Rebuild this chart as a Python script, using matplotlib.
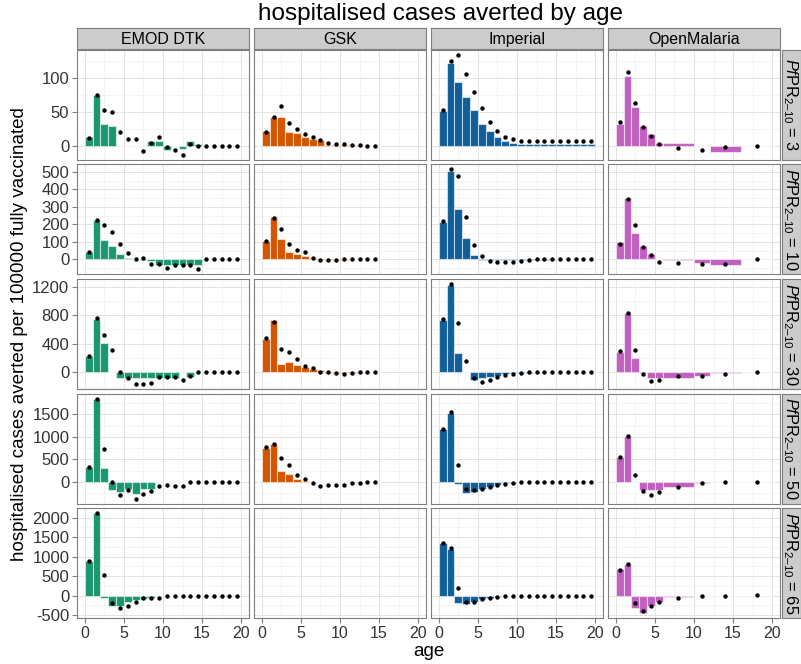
import numpy as np
import matplotlib
matplotlib.use("Agg")
import matplotlib.pyplot as plt
from matplotlib.ticker import FixedLocator

plt.rcParams['font.family'] = ['Liberation Sans', 'DejaVu Sans']
plt.rcParams['mathtext.fontset'] = 'custom'
plt.rcParams['mathtext.rm'] = 'Liberation Sans'
plt.rcParams['mathtext.it'] = 'Liberation Sans:italic'
plt.rcParams['axes.unicode_minus'] = False

# ---- data -------------------------------------------------------------
models = ["EMOD DTK", "GSK", "Imperial", "OpenMalaria"]
prevalence = [3, 10, 30, 50, 65]
colors = ["#1b9670", "#d45500", "#115e99", "#c260c2"]

# age-bin edges for the bars of each model
emod_edges = list(range(0, 16))
gsk_edges = list(range(0, 16))
imperial_edges = list(range(0, 21))
om_edges = [0, 1, 2, 3, 4, 5, 6, 10, 12, 16, 20]

# ages at which the point estimates are reported
emod_pt_age = [a + 0.5 for a in range(20)]
gsk_pt_age = [a + 0.5 for a in range(15)]
imperial_pt_age = [a + 0.5 for a in range(20)]
om_pt_age = [0.5, 1.5, 2.5, 3.5, 4.5, 5.5, 8, 11, 14, 18]

# bar heights (one list per PfPR level)
emod_bars = [
    [12, 75, 31, 29, 0, 0, 0, 0, 7, 7, -6, 0, -5, 6, 2],
    [42, 226, 113, 79, 30, 9, 4, -4, -10, -34, -34, -34, -34, -34, -34],
    [233, 753, 409, 0, -80, -80, -80, -80, -80, -80, -80, -80, 0, -65, 0],
    [329, 1850, 315, -183, -227, -154, -263, -154, -154, 0, 10, 0, 0, 0, 0],
    [892, 2117, -67, -275, -275, -167, -117, -83, -67, 0, 0, 0, 0, 0, 0],
]
emod_pts = [
    [11, 75, 52, 50, 19.5, 10, 10, -8, 4.4, 12.7, -2, -7, -14, 2.4, 0, 0, 0, 0, 0, 0],
    [41.5, 226, 198, 157, 90.6, 36, 0, 5.7, -28, -23, -51, -32, -32, -32, -57, 0, 0, 0, 0, 0],
    [223, 758, 526, 307, 5, -84, -163, -163, -153, -70, -70, -60, -102, -56, 9, 0, 0, 0, 0, 0],
    [329, 1850, 732, 7, -278, -183, -366, -263, -190, -80, -66, -80, -80, 0, 0, 0, 0, 0, 0, 0],
    [892, 2117, 533, -192, -317, -258, -167, -67, -67, -67, 0, 0, 0, 0, 0, 0, 0, 0, 0, 0],
]

gsk_bars = [
    [21.5, 42, 42, 20, 18, 12, 9, 8, 1, 1, 1, 0.5, 0.5, 0, 0],
    [107.5, 241.5, 119, 43, 32, 22.6, 7.5, -3, -3, -3, -2, 0, 0, 0, 0],
    [465, 726, 121, 140, 107, 74, 51, 28, -5, -5, -10, -10, -5, 0, 0],
    [746, 834, 249, 183, 66, 29, 0, -10, -10, -10, -10, -10, -10, -10, -5],
    None,
]
gsk_pts = [
    [20.5, 42.4, 59, 32.7, 24.4, 17, 12.2, 8.3, 3.4, 2.4, 2.4, 1, 0.5, 0, 0],
    [104, 236, 174, 90.6, 56.6, 41.5, 9.4, -5.7, -5.7, -5.7, 2, 0, 0, 0, 0],
    [479, 698, 326, 279, 186, 93, 65, 0, 0, -9, -19, -9, 0, 0, 0],
    [783, 834, 541, 366, 154, 73, -29, -80, -73, -58, -58, -29, -29, 0, 0],
    None,
]

imperial_bars = [
    [51, 121, 94, 72, 52, 31, 22, 12, 7, 3.4, 2, 2, 2, 2, 2, 2, 2, 2, 2, 2],
    [211, 506, 287, 123, 28, -5, -5, -5, -5, -5, -5, -3, -2, -1, -1, 0, 0, 0, 0, 0],
    [726, 1223, 270, 0, -102, -84, -65, -47, -28, -14, -7, -3, 0, 0, 0, 0, 0, 0, 0, 0],
    [1178, 1536, -40, -241, -219, -154, -110, -58, -25, -15, -8, -4, 0, 0, 0, 0, 0, 0, 0, 0],
    [1350, 1200, -192, -217, -167, -83, -50, -20, -10, -5, 0, 0, 0, 0, 0, 0, 0, 0, 0, 0],
]
imperial_pts = [
    [53, 124, 133.5, 106, 79, 55, 35, 22, 12, 9, 7, 6, 6, 6, 6, 6, 6, 6, 6, 6],
    [219, 513, 475, 241.5, 85, 19, -9.4, -15, -15, -15, -9.4, -5.7, 0, 0, 0, 0, 0, 0, 0, 0],
    [744, 1237, 688, 153, -79, -140, -102, -65, -42, -23, -9, 0, 0, 0, 0, 0, 0, 0, 0, 0],
    [1178, 1543, 366, -154, -183, -146, -102, -58, -37, -22, 0, 0, 0, 0, 0, 0, 0, 0, 0, 0],
    [1350, 1217, 200, -167, -167, -83, -50, -25, -8, 0, 0, 0, 0, 0, 0, 0, 0, 0, 0, 0],
]

om_bars = [
    [32, 103, 57, 29, 17, 4, 3, 0, -10, 0],
    [98, 349, 151, 79, 32, 0, -4, -19, -34, 0],
    [288, 837, 200, -10, -84, -84, -84, -56, -9, 0],
    [549, 1017, 0, -183, -183, -183, -110, -22, -7, 0],
    [683, 808, -317, -442, -275, -167, -42, -17, -5, 0],
]
om_pts = [
    [34.6, 108, 63, 28, 14, 2.4, -4, -6, -1.5, 0],
    [90.6, 347, 198, 72, 24.5, -13, -19, -28, -28, 0],
    [302, 837, 316, -23, -116, -112, -56, -51, -28, 9],
    [549, 1017, 146, -205, -285, -212, -117, -22, -7, 7],
    [650, 808, -175, -400, -258, -167, -50, 0, 0, 17],
]

y_breaks = [
    [0, 50, 100],
    [0, 100, 200, 300, 400, 500],
    [0, 400, 800, 1200],
    [0, 500, 1000, 1500],
    [-500, 0, 500, 1000, 1500, 2000],
]

edges = [emod_edges, gsk_edges, imperial_edges, om_edges]
pt_ages = [emod_pt_age, gsk_pt_age, imperial_pt_age, om_pt_age]
bars = [emod_bars, gsk_bars, imperial_bars, om_bars]
pts = [emod_pts, gsk_pts, imperial_pts, om_pts]

# ---- layout (pixels) --------------------------------------------------
W, H = 801, 664
col_left = [77, 254, 431, 608]
col_w = 172
row_top = [50, 164.5, 279, 393.5, 508]
row_h = 110
strip_top, strip_h = 28, 21
rstrip_left, rstrip_w = 782, 19

fig = plt.figure(figsize=(W / 100, H / 100), dpi=100)
fig.patch.set_facecolor("white")


def rect(l, t, w, h):
    return [l / W, 1 - (t + h) / H, w / W, h / H]


grey50 = "#7f7f7f"

for r in range(5):
    # shared y-range for a row: data range expanded by 5% on each side
    vals = [0]
    for m in range(4):
        if bars[m][r] is not None:
            vals += list(bars[m][r]) + list(pts[m][r])
    lo, hi = min(vals), max(vals)
    span = hi - lo
    ylim = (lo - 0.05 * span, hi + 0.05 * span)
    for m in range(4):
        ax = fig.add_axes(rect(col_left[m], row_top[r], col_w, row_h))
        ax.set_facecolor("white")
        ax.set_xlim(-1, 21)
        ax.set_ylim(*ylim)
        ax.xaxis.set_major_locator(FixedLocator([0, 5, 10, 15, 20]))
        ax.xaxis.set_minor_locator(FixedLocator([2.5, 7.5, 12.5, 17.5]))
        yb = y_breaks[r]
        step = yb[1] - yb[0]
        ax.yaxis.set_major_locator(FixedLocator(yb))
        ax.yaxis.set_minor_locator(
            FixedLocator([v + step / 2 for v in [yb[0] - step] + yb]))
        ax.grid(which="major", color="#e3e3e3", lw=0.7)
        ax.grid(which="minor", color="#f3f3f3", lw=0.6)
        ax.set_axisbelow(True)
        for s in ax.spines.values():
            s.set_color(grey50)
            s.set_linewidth(0.8)
        ax.tick_params(which="both", direction="out", length=0)
        ax.tick_params(which="major", color=grey50, width=0.8,
                       labelsize=12, labelcolor="#333333", pad=2)
        if m == 0:
            ax.tick_params(axis="y", which="major", length=3.5)
        else:
            ax.tick_params(axis="y", labelleft=False)
        if r == 4:
            ax.tick_params(axis="x", which="major", length=3.5, labelsize=11.5)
        else:
            ax.tick_params(axis="x", labelbottom=False)

        if bars[m][r] is not None:
            e = np.array(edges[m], dtype=float)
            ax.bar(e[:-1], bars[m][r], width=np.diff(e), align="edge",
                   color=colors[m], edgecolor=(1, 1, 1, 0.55), linewidth=0.8,
                   zorder=2)
            ax.scatter(pt_ages[m], pts[m][r], s=10, color="black", zorder=3,
                       linewidths=0)

    # right-hand strip with the prevalence level
    sax = fig.add_axes(rect(rstrip_left, row_top[r], rstrip_w, row_h))
    sax.set_facecolor("#cccccc")
    sax.set_xticks([])
    sax.set_yticks([])
    for s in sax.spines.values():
        s.set_color(grey50)
        s.set_linewidth(0.8)
    sax.text(0.45, 0.5, r"$\mathit{Pf}\mathrm{PR}_{2–10}$ = %d" % prevalence[r],
             rotation=-90, ha="center", va="center", fontsize=11.8,
             transform=sax.transAxes)

# top strips with model names
for m in range(4):
    sax = fig.add_axes(rect(col_left[m], strip_top, col_w, strip_h))
    sax.set_facecolor("#cccccc")
    sax.set_xticks([])
    sax.set_yticks([])
    for s in sax.spines.values():
        s.set_color(grey50)
        s.set_linewidth(0.8)
    sax.text(0.5, 0.45, models[m], ha="center", va="center", fontsize=11.5,
             transform=sax.transAxes)

fig.text(440 / W, 1 - 14 / H, "hospitalised cases averted by age",
         ha="center", va="center", fontsize=17.5)
fig.text(429 / W, 1 - 652 / H, "age", ha="center", va="center", fontsize=13.5)
fig.text(20 / W, 1 - 334 / H,
         "hospitalised cases averted per 100000 fully vaccinated",
         ha="center", va="center", rotation=90, fontsize=13.5)

fig.savefig("out.png", dpi=100)
